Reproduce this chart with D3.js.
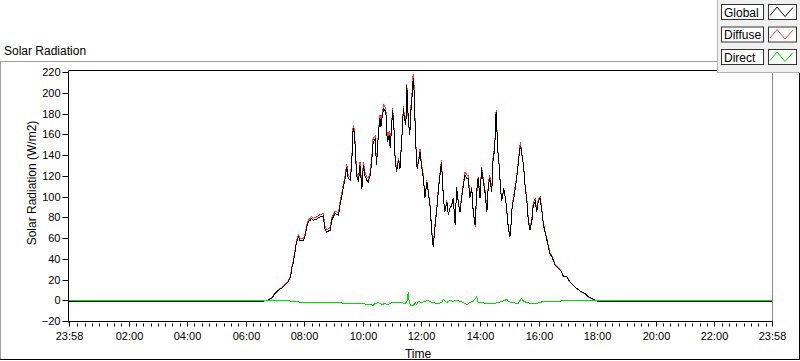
<!DOCTYPE html>
<html>
<head>
<meta charset="utf-8">
<script src="https://cdn.jsdelivr.net/npm/d3@7"></script>
<style>
  body { margin: 0; background: #fff; }
  svg { display: block; font-family: "Liberation Sans", Arial, sans-serif; }
  .axis text { font-size: 11px; fill: #000; }
  .axis line { stroke: #000; }
</style>
</head>
<body>
<script>

// time stamps (HH:MM), a time smaller than the one before rolls to the next day
const globalTimes = [
  "23:58","06:33","06:46","06:54","07:00","07:07","07:14","07:20","07:27",
  "07:32","07:34","07:37","07:41","07:44","07:48","07:51","07:58","08:01","08:05",
  "08:08","08:12","08:15","08:18","08:25","08:32","08:39","08:42","08:46","08:53",
  "08:56","09:03","09:10","09:13","09:17","09:20","09:23","09:27","09:30","09:34",
  "09:37","09:40","09:42","09:44","09:47","09:51","09:54","09:58","10:01","10:04",
  "10:08","10:11","10:15","10:18","10:21","10:25","10:28","10:32","10:35","10:37",
  "10:40","10:43","10:47","10:50","10:54","10:56","10:59","11:01","11:04","11:06",
  "11:09","11:13","11:16","11:20","11:23","11:25","11:28","11:30","11:31","11:33",
  "11:36","11:39","11:41","11:43","11:45","11:48","11:51","11:54","11:57","12:00",
  "12:04","12:07","12:11","12:14","12:18","12:21","12:24","12:28","12:31","12:35",
  "12:38","12:41","12:45","12:48","12:52","12:55","12:58","13:02","13:05","13:09",
  "13:12","13:16","13:19","13:22","13:26","13:29","13:33","13:36","13:39","13:43",
  "13:46","13:50","13:53","13:56","14:00","14:03","14:07","14:10","14:14","14:17",
  "14:20","14:24","14:27","14:30","14:32","14:34","14:35","14:37","14:39","14:42",
  "14:44","14:46","14:48","14:50","14:53","14:55","14:58","15:01","15:03","15:06",
  "15:09","15:12","15:15","15:18","15:21","15:23","15:25","15:29","15:32","15:36",
  "15:39","15:42","15:46","15:49","15:53","15:56","15:59","16:03","16:06","16:10",
  "16:13","16:17","16:20","16:23","16:27","16:30","16:34","16:40","16:47","16:51",
  "16:58","17:04","17:11","17:18","17:28","17:35","17:42","17:49","17:56","18:02","23:58"
]

const globalVals = [
  -0.7,-0.7,0.5,2.9,6.9,10.1,12.3,14.9,18.1,
  23.0,31.1,35.9,47.1,56.7,61.5,58.3,58.3,61.5,71.2,
  76.0,77.6,79.3,77.6,78.6,80.8,81.8,69.6,66.3,68.0,
  77.6,84.1,82.4,92.1,101.7,109.7,116.2,129.0,117.8,116.2,
  130.7,166.1,162.8,150.0,121.0,114.6,130.7,108.2,130.7,121.0,
  116.2,114.6,121.0,133.8,153.1,155.7,130.7,162.8,175.7,167.6,
  178.9,185.3,182.1,153.1,159.6,146.8,169.2,183.7,162.8,137.0,
  124.2,135.5,127.5,158.0,185.3,175.7,169.2,207.8,195.0,175.7,
  159.6,188.5,198.2,214.5,201.4,153.1,127.5,133.8,143.5,130.7,
  117.8,98.6,114.6,104.9,88.9,66.3,51.9,72.8,85.6,108.2,
  121.0,133.8,98.6,85.6,95.3,82.4,88.9,92.1,98.6,72.8,
  109.7,92.1,85.6,98.6,111.4,121.0,117.8,117.8,98.6,108.2,
  85.6,72.8,104.9,117.8,98.6,127.5,114.6,104.9,85.6,111.4,
  117.8,104.9,140.3,143.5,178.9,182.1,155.7,140.3,130.7,108.2,
  96.9,98.6,108.2,104.9,95.3,85.6,69.6,61.5,69.6,92.1,
  98.6,108.2,117.8,130.7,145.0,149.5,143.5,130.7,111.4,95.3,
  76.0,68.0,76.0,92.1,95.3,85.6,95.3,98.6,88.9,72.8,
  66.3,58.3,51.9,45.5,42.2,39.1,34.2,31.6,27.8,23.0,
  23.0,18.1,14.9,11.8,8.5,6.9,3.7,2.1,0.5,-0.7,-0.7
]

const diffuseVals = [
  -0.7,-0.7,0.8,3.3,7.4,10.6,12.8,15.4,18.7,
  24.3,32.5,37.4,48.6,58.2,63.1,59.8,59.9,63.2,72.9,
  77.8,79.5,81.2,79.4,80.7,83.0,84.2,72.0,68.7,70.4,
  80.1,86.6,84.9,94.6,104.3,112.3,118.9,131.9,120.8,119.1,
  133.6,169.4,165.9,153.1,124.0,117.5,133.8,111.1,133.9,124.1,
  119.3,117.9,124.2,137.3,157.2,158.6,133.5,164.7,178.8,171.0,
  182.4,188.9,184.9,156.6,163.1,149.9,171.3,185.8,164.4,138.3,
  125.6,137.4,129.4,159.7,187.6,178.2,171.5,209.1,197.6,170.0,
  162.6,192.8,202.5,219.0,205.6,155.0,131.2,134.5,146.0,132.5,
  120.0,99.3,116.0,105.1,90.2,68.0,53.8,75.0,87.9,110.9,
  123.5,135.6,97.8,87.0,97.0,82.9,88.6,92.9,99.1,73.0,
  109.3,93.2,86.8,100.2,113.1,123.8,121.5,120.5,100.3,109.2,
  86.1,71.5,101.2,119.0,100.0,129.2,116.7,107.3,88.3,114.3,
  120.9,108.0,143.0,145.9,181.2,184.2,157.6,142.0,132.0,109.0,
  97.2,98.6,108.0,104.5,94.8,84.2,70.1,62.8,71.0,93.8,
  100.7,110.5,120.3,133.4,147.5,152.5,141.6,131.2,112.8,97.0,
  78.2,70.4,78.7,94.7,97.8,88.0,97.4,100.2,90.1,74.0,
  67.5,59.5,53.1,46.5,43.1,39.9,34.9,32.1,28.1,23.3,
  23.2,18.3,15.0,11.8,8.4,6.8,3.6,2.0,0.4,-0.7,-0.7
]

const directTimes = [
  "23:58","07:27","07:34","08:01","08:36","09:17","09:30","10:04","10:21","10:25",
  "10:32","10:39","10:45","10:52","10:59","11:06","11:20","11:26","11:30","11:33",
  "11:35","11:38","11:43","11:47","11:50","11:54","12:00","12:07","12:14","12:21",
  "12:35","12:41","12:45","12:52","12:58","13:05","13:12","13:26","13:33","13:39",
  "13:46","13:53","13:56","14:03","14:10","14:24","14:31","14:37","14:51","14:55",
  "14:58","15:05","15:18","15:22","15:25","15:29","15:36","15:46","15:56","16:06",
  "16:20","16:47","17:21","17:56","23:58"
]

const directVals = [
  0.25,0.25,-0.5,-1.7,-1.7,-2.1,-3.1,-3.1,-4.3,-2.7,
  -1.7,-3.7,-2.7,-3.7,-1.7,-1.2,-1.7,-2.7,-1.2,8.5,
  -1.7,-4.3,-5.0,-1.7,-3.7,-0.5,-1.7,-0.5,0.2,-1.7,
  -2.7,-1.7,1.2,-1.7,0.5,-0.5,0.5,-1.7,-3.7,-1.7,
  -0.5,3.7,-1.2,-1.7,-2.4,-3.1,-2.4,-1.7,0.5,1.4,
  -0.5,-1.7,-2.7,0.5,2.1,-0.5,-1.7,-2.7,-2.4,-1.2,
  -1.2,-0.2,0.2,0.25,0.25
]

const yTicks = [-20, 0, 20, 40, 60, 80, 100, 120, 140, 160, 180, 200, 220]
const xTickLabels = ["23:58","02:00","04:00","06:00","08:00","10:00","12:00",
  "14:00","16:00","18:00","20:00","22:00","23:58"]

const seriesNames = ["Global", "Diffuse", "Direct"]
const seriesColors = ["#000000", "#ff3c3c", "#00e000"]


function parseSeq(list) {
  let day = 0, prev = -1
  return list.map(s => {
    const [h, m] = s.split(':').map(Number)
    const mins = h * 60 + m
    if (mins < prev) day++
    prev = mins
    return new Date(2000, 0, 1 + day, h, m)
  })
}

const plot = { left: 68.5, right: 772.5, top: 70.5, bottom: 321.5 }

const svg = d3.select('body').append('svg')
  .attr('width', 800)
  .attr('height', 361)

const xTicks = parseSeq(xTickLabels)
const x = d3.scaleTime()
  .domain([xTicks[0], xTicks[xTicks.length - 1]])
  .range([69, 772])

const y = d3.scaleLinear()
  .domain([-20, 220])
  .range([321.5, 72.5])

// outer frame
svg.append('line').attr('x1', 0).attr('x2', 717).attr('y1', 61.5).attr('y2', 61.5).attr('stroke', '#a0a0a0')
svg.append('line').attr('x1', 0.5).attr('x2', 0.5).attr('y1', 61).attr('y2', 360).attr('stroke', '#a0a0a0')
svg.append('line').attr('x1', 0).attr('x2', 800).attr('y1', 359.5).attr('y2', 359.5).attr('stroke', '#000')
svg.append('line').attr('x1', 799.5).attr('x2', 799.5).attr('y1', 70).attr('y2', 360).attr('stroke', '#000')

// plot box
svg.append('line').attr('x1', plot.left).attr('x2', 799).attr('y1', plot.top).attr('y2', plot.top).attr('stroke', '#000')
svg.append('line').attr('x1', plot.right).attr('x2', plot.right).attr('y1', plot.top).attr('y2', 322).attr('stroke', '#888')

svg.append('text')
  .attr('x', 4).attr('y', 54.5)
  .attr('font-size', 12)
  .text('Solar Radiation')

// minor ticks every 15 minutes
const minor = d3.timeMinute.every(15).range(xTicks[0], xTicks[xTicks.length - 1])
  .filter(d => d.getMinutes() !== 0 || d.getHours() % 2 === 1)
  .filter(d => x(d) - x(xTicks[0]) > 3)
svg.append('g').selectAll('line').data(minor).join('line')
  .attr('x1', d => Math.round(x(d)) + 0.5)
  .attr('x2', d => Math.round(x(d)) + 0.5)
  .attr('y1', plot.bottom + 2)
  .attr('y2', plot.bottom + 5)
  .attr('stroke', '#000')

const xAxis = svg.append('g')
  .attr('class', 'axis')
  .attr('transform', `translate(0,${plot.bottom})`)
  .call(d3.axisBottom(x).tickValues(xTicks).tickFormat(d3.timeFormat('%H:%M')).tickSize(5).tickPadding(6).tickSizeOuter(0))
xAxis.select('.domain').remove()
xAxis.selectAll('.tick').attr('transform', d => `translate(${Math.round(x(d)) + 0.5},0)`)

const yAxis = svg.append('g')
  .attr('class', 'axis')
  .attr('transform', `translate(${plot.left},0)`)
  .call(d3.axisLeft(y).tickValues(yTicks).tickSize(6).tickPadding(2).tickSizeOuter(0))
yAxis.select('.domain').remove()
yAxis.selectAll('.tick').attr('transform', d => `translate(0,${Math.round(y(d) - 0.5) + 0.5})`)

svg.append('line').attr('x1', plot.left).attr('x2', plot.left).attr('y1', plot.top).attr('y2', plot.bottom + 1).attr('stroke', '#000')
svg.append('line').attr('x1', plot.left).attr('x2', plot.right).attr('y1', plot.bottom).attr('y2', plot.bottom).attr('stroke', '#000')

svg.append('text')
  .attr('transform', 'translate(35.5,183) rotate(-90)')
  .attr('text-anchor', 'middle')
  .attr('font-size', 12)
  .text('Solar Radiation (W/m2)')

svg.append('text')
  .attr('x', 418).attr('y', 357.5)
  .attr('text-anchor', 'middle')
  .attr('font-size', 12)
  .text('Time')

// series
const gTimes = parseSeq(globalTimes)
const dTimes = parseSeq(directTimes)
const series = [
  { name: 'Diffuse', color: seriesColors[1], pts: gTimes.map((t, i) => ({ t, v: diffuseVals[i] })) },
  { name: 'Global', color: seriesColors[0], pts: gTimes.map((t, i) => ({ t, v: globalVals[i] })) },
  { name: 'Direct', color: seriesColors[2], pts: dTimes.map((t, i) => ({ t, v: directVals[i] })) }
]

const line = d3.line().x(d => x(d.t)).y(d => y(d.v))

svg.append('g').selectAll('path').data(series).join('path')
  .attr('d', d => line(d.pts))
  .attr('fill', 'none')
  .attr('stroke', d => d.color)
  .attr('stroke-width', 1)
  .attr('shape-rendering', 'crispEdges')

// legend
const legend = svg.append('g')
legend.append('rect')
  .attr('x', 717.5).attr('y', -1).attr('width', 84).attr('height', 73.5)
  .attr('fill', '#f0f0f0').attr('stroke', '#b4b4b4')

seriesNames.forEach((name, i) => {
  const top = 4.5 + i * 22.5
  legend.append('rect')
    .attr('x', 721.5).attr('y', top).attr('width', 42).attr('height', 15)
    .attr('fill', '#fff').attr('stroke', '#333')
  legend.append('text')
    .attr('x', 724).attr('y', top + 12)
    .attr('font-size', 12)
    .text(name)
  legend.append('rect')
    .attr('x', 768.5).attr('y', top).attr('width', 28).attr('height', 15)
    .attr('fill', '#fff').attr('stroke', '#333')
  legend.append('path')
    .attr('d', `M770,${top + 11} L777,${top + 2.5} L785,${top + 12} L793,${top + 3}`)
    .attr('fill', 'none')
    .attr('stroke', seriesColors[i])
})

</script>
</body>
</html>
